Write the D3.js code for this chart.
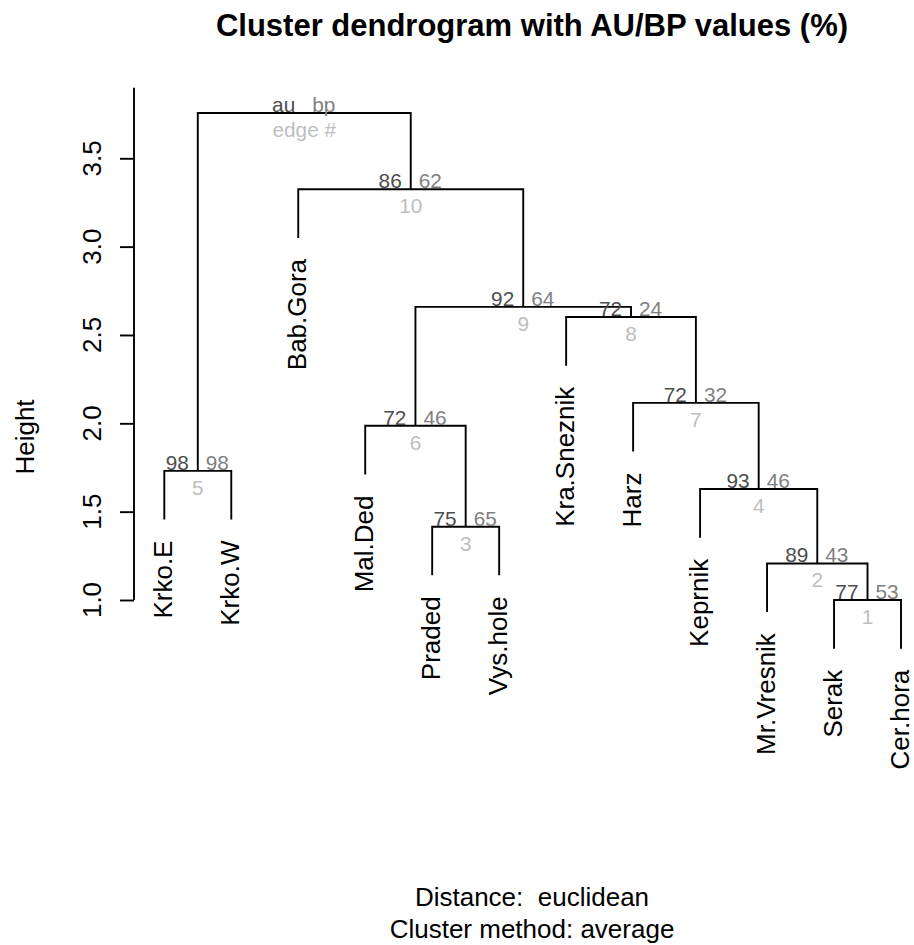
<!DOCTYPE html>
<html>
<head>
<meta charset="utf-8">
<script src="https://cdn.jsdelivr.net/npm/d3@7"></script>
<style>
  body { margin: 0; background: #fff; }
  svg { display: block; }
  text { font-family: "Liberation Sans", Arial, Helvetica, sans-serif; white-space: pre; }
</style>
</head>
<body>
<svg id="chart" width="914" height="945"></svg>
<script>
// ---- data ----
const leafLabels = ["Krko.E", "Krko.W", "Bab.Gora", "Mal.Ded", "Praded", "Vys.hole",
                    "Kra.Sneznik", "Harz", "Keprnik", "Mr.Vresnik", "Serak", "Cer.hora"];
// hclust-style merges: negative = leaf position (1-based), positive = earlier merge row
const mergeLeft  = [-11, -10, -5, -9, -1, -4, -8, -7, 6, -3, 5];
const mergeRight = [-12,   1, -6,  2, -2,  3,  4,  7, 8,  9, 10];
const mergeHeights = [1.000, 1.207, 1.415, 1.628, 1.731, 1.986, 2.116, 2.602, 2.659, 3.325, 3.756];
const auValues = [77, 89, 75, 93, 98, 72, 72, 72, 92, 86];
const bpValues = [53, 43, 65, 46, 98, 46, 32, 24, 64, 62];
const edgeNumbers = [1, 2, 3, 4, 5, 6, 7, 8, 9, 10];
const yTicks = [1.0, 1.5, 2.0, 2.5, 3.0, 3.5];
const yAxisTop = 3.9;

const titleText = "Cluster dendrogram with AU/BP values (%)";
const xlabText = "Distance:  euclidean";
const subText = "Cluster method: average";

// ---- scales ----
const svg = d3.select("#chart");
const x = d3.scaleLinear().domain([1, leafLabels.length]).range([164.3, 901]);
const y = d3.scaleLinear().domain([1.0, 3.5]).range([600, 158.3]);

const hang = 0.1 * (d3.max(mergeHeights) - d3.min(mergeHeights));

// compute node positions
const nodeX = [];
function childInfo(c) {
  if (c < 0) return { x: x(-c), bottom: null, leaf: -c };
  return { x: nodeX[c - 1], bottom: mergeHeights[c - 1], leaf: null };
}
mergeLeft.forEach((l, i) => {
  const a = childInfo(l), b = childInfo(mergeRight[i]);
  nodeX[i] = (a.x + b.x) / 2;
});

const g = svg.append("g");
const leafEnds = {};
mergeLeft.forEach((l, i) => {
  const h = mergeHeights[i];
  const a = childInfo(l), b = childInfo(mergeRight[i]);
  const aBottom = a.leaf ? h - hang : a.bottom;
  const bBottom = b.leaf ? h - hang : b.bottom;
  if (a.leaf) leafEnds[a.leaf] = aBottom;
  if (b.leaf) leafEnds[b.leaf] = bBottom;
  g.append("path")
    .attr("d", `M${a.x},${y(aBottom)}V${y(h)}H${b.x}V${y(bBottom)}`)
    .attr("fill", "none")
    .attr("stroke", "#000")
    .attr("stroke-width", 1.9);
});

// leaf labels
leafLabels.forEach((lab, i) => {
  const idx = i + 1;
  svg.append("text")
    .attr("transform", `translate(${x(idx)},${y(leafEnds[idx]) + 21}) rotate(-90)`)
    .attr("text-anchor", "end")
    .attr("dy", "0.3em")
    .attr("font-size", 26)
    .attr("fill", "#000")
    .text(lab);
});

// au / bp / edge labels
const numSize = 20.8;
auValues.forEach((v, i) => {
  const nx = nodeX[i], ny = y(mergeHeights[i]);
  svg.append("text").attr("x", nx - 9).attr("y", ny - 1)
    .attr("text-anchor", "end").attr("font-size", numSize).attr("fill", "#4d4d4d").text(v);
  svg.append("text").attr("x", nx + 8).attr("y", ny - 1)
    .attr("text-anchor", "start").attr("font-size", numSize).attr("fill", "#808080").text(bpValues[i]);
  svg.append("text").attr("x", nx).attr("y", ny + 24)
    .attr("text-anchor", "middle").attr("font-size", numSize).attr("fill", "#bebebe").text(edgeNumbers[i]);
});
// root legend
{
  const r = mergeHeights.length - 1;
  const nx = nodeX[r], ny = y(mergeHeights[r]);
  svg.append("text").attr("x", nx - 9).attr("y", ny - 1)
    .attr("text-anchor", "end").attr("font-size", numSize).attr("fill", "#4d4d4d").text("au");
  svg.append("text").attr("x", nx + 8).attr("y", ny - 1)
    .attr("text-anchor", "start").attr("font-size", numSize).attr("fill", "#808080").text("bp");
  svg.append("text").attr("x", nx).attr("y", ny + 24)
    .attr("text-anchor", "middle").attr("font-size", numSize).attr("fill", "#bebebe").text("edge #");
}

// y axis
const axisX = 134;
const axisG = svg.append("g").attr("transform", `translate(${axisX},0)`)
  .call(d3.axisLeft(y).tickValues(yTicks).tickSize(14).tickFormat(""));
axisG.select(".domain").remove();
axisG.selectAll(".tick line").attr("stroke", "#000").attr("stroke-width", 1.9);
axisG.append("line")
  .attr("x1", 0).attr("x2", 0)
  .attr("y1", y(yTicks[0])).attr("y2", y(yAxisTop))
  .attr("stroke", "#000").attr("stroke-width", 1.9);
yTicks.forEach(t => {
  svg.append("text")
    .attr("transform", `translate(${axisX - 33},${y(t)}) rotate(-90)`)
    .attr("text-anchor", "middle")
    .attr("font-size", 26)
    .attr("fill", "#000")
    .text(d3.format(".1f")(t));
});

// Height label
svg.append("text")
  .attr("transform", `translate(34,437) rotate(-90)`)
  .attr("text-anchor", "middle")
  .attr("font-size", 26)
  .text("Height");

// title and subtitles
svg.append("text").attr("x", 532).attr("y", 36)
  .attr("text-anchor", "middle").attr("font-size", 31).attr("font-weight", "bold")
  .text(titleText);
svg.append("text").attr("x", 532).attr("y", 906)
  .attr("text-anchor", "middle").attr("font-size", 26).text(xlabText);
svg.append("text").attr("x", 532).attr("y", 938)
  .attr("text-anchor", "middle").attr("font-size", 26).text(subText);
</script>
</body>
</html>
